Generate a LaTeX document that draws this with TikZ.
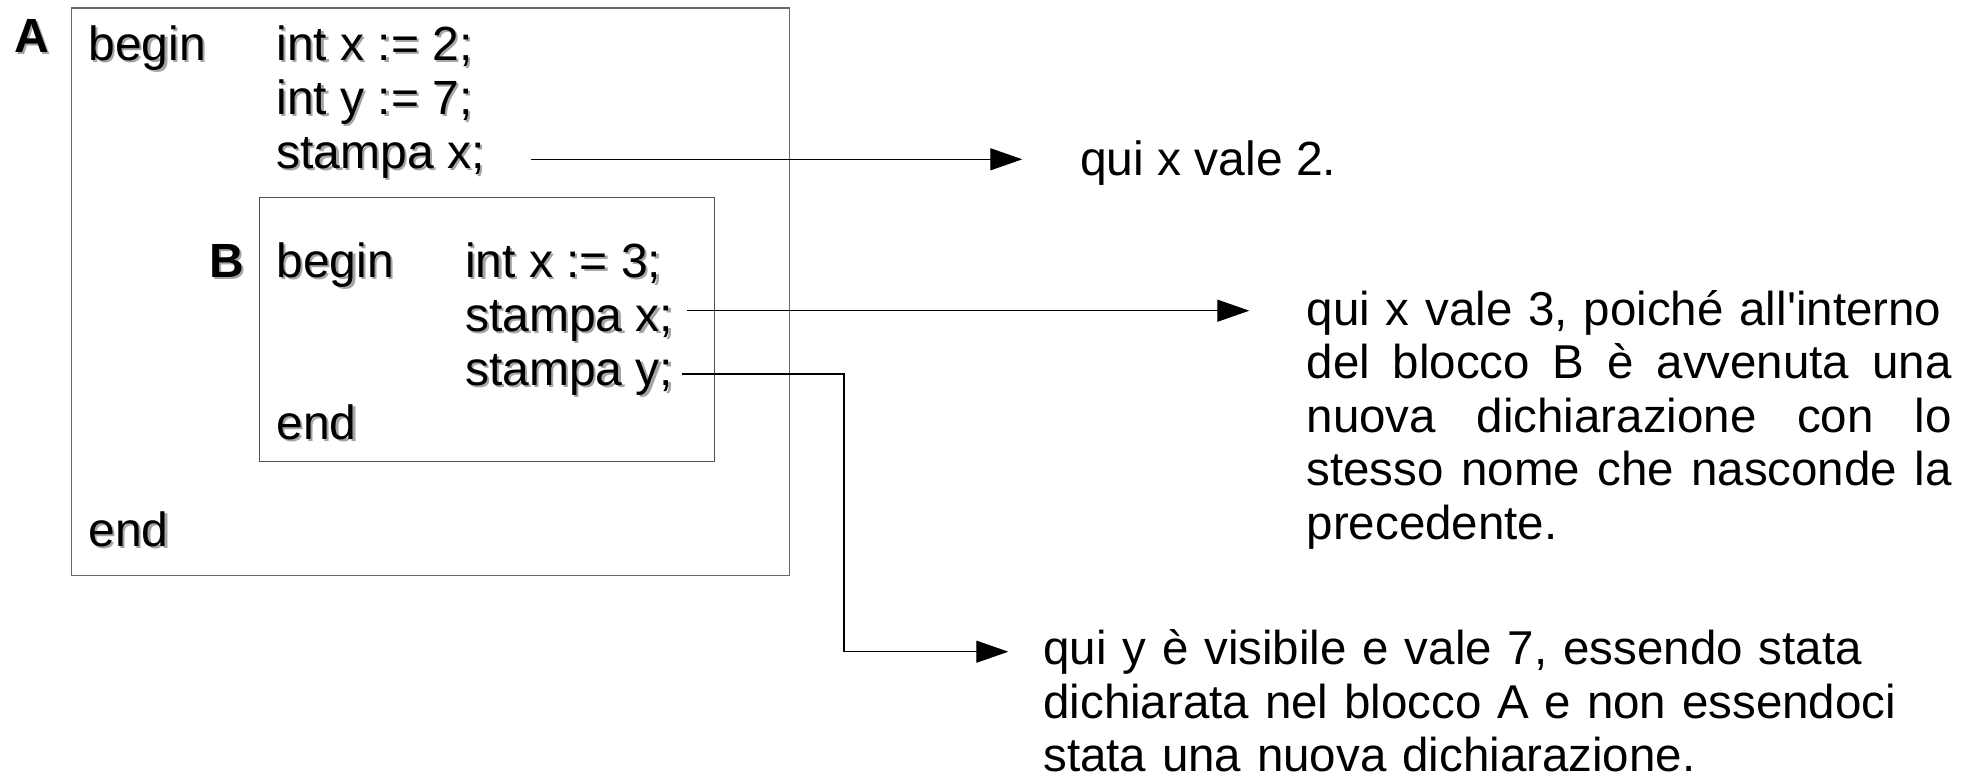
\documentclass[tikz,border=0pt]{standalone}
\usepackage{fontspec}
\setmainfont{Liberation Sans}[Ligatures=TeXOff]
\usetikzlibrary{arrows.meta}

\definecolor{shadowgray}{RGB}{165,165,165}
\definecolor{frameA}{RGB}{105,105,105}
\definecolor{frameB}{RGB}{80,80,80}

% code text with a soft drop shadow: grey copy first, black text on top
\newcommand\shcode[4][]{%
  \node[txt, text=shadowgray, xshift=2.2pt, yshift=-2.2pt, #1] (#2-sh) at (#3) {#4};
  \node[txt, #1] (#2) at (#3) {#4};}
% one fully justified line of the explanation
\newcommand\fullline[1]{\leavevmode\hbox to 645pt{#1}}

\begin{document}
\begin{tikzpicture}[x=1pt, y=-1pt,
  txt/.style={anchor=base west, inner sep=0pt, outer sep=0pt,
              font=\fontsize{48}{54}\selectfont},
  lbl/.style={font=\fontsize{48}{54}\selectfont\bfseries},
  para/.style={anchor=base west, inner sep=0pt, outer sep=0pt,
               font=\fontsize{47.5}{53.5}\selectfont, align=left},
  block/.style={draw, line width=1.3pt, inner sep=0pt, anchor=north west},
  conn/.style={draw=black, line width=1.3pt,
               -{Triangle[length=32pt,width=22pt]}}]

\useasboundingbox (0,0) rectangle (1973,776);

% the two nested blocks
\node[block, draw=frameA, minimum width=718pt, minimum height=567.7pt] (blockA) at (71,7.3) {};
\node[block, draw=frameB, minimum width=454.5pt, minimum height=264pt] (blockB) at (259,197) {};

% block A
\shcode[lbl]{labA}{14.6,52.4}{A}
\shcode{beginA}{88.5,60}{begin}
\shcode{declX}{276.5,60}{int x := 2;}
\shcode{declY}{276.5,114}{int y := 7;}
\shcode{printXa}{276.5,168}{stampa x;}
\shcode{endA}{88.5,546.7}{end}

% block B
\shcode[lbl]{labB}{209.5,277}{B}
\shcode{beginB}{276.5,277}{begin}
\shcode{declXb}{465.2,277}{int x := 3;}
\shcode{printXb}{465.2,331}{stampa x;}
\shcode{printYb}{465.2,385}{stampa y;}
\shcode{endB}{276.5,439}{end}

% explanations
\node[para, font=\fontsize{48}{54}\selectfont] (note1) at (1080,175.5) {qui x vale 2.};
\node[para, text width=646pt] (note2) at (1306.6,325.3)
  {qui x vale 3, poiché all'interno\\
   \fullline{del\hfill blocco\hfill B\hfill è\hfill avvenuta\hfill una}\\
   \fullline{nuova\hfill dichiarazione\hfill con\hfill lo}\\
   \fullline{stesso\hfill nome\hfill che\hfill nasconde\hfill la}\\
   precedente.};
\node[para, font=\fontsize{47.5}{53.5}\selectfont, text width=900pt] (note3) at (1043.3,664.8)
  {qui y è visibile e vale 7, essendo stata\\
   dichiarata nel blocco A e non essendoci\\
   stata una nuova dichiarazione.};

% connectors from the print statements to their explanations
\coordinate (out1) at ([xshift=46pt, yshift=8.7pt]printXa.base east);
\coordinate (in1) at ([xshift=-57.7pt]note1.base west |- out1);
\draw[conn] (out1) -- (in1);

\coordinate (out2) at ([xshift=14pt, yshift=20.3pt]printXb.base east);
\coordinate (in2) at ([xshift=-57.3pt]note2.base west |- out2);
\draw[conn] (out2) -- (in2);

\coordinate (out3) at ([xshift=9pt, yshift=11pt]printYb.base east);
\coordinate (bend3) at (844,651.7);
\coordinate (in3) at ([xshift=-35pt]note3.base west |- bend3);
\draw[conn] (out3) -| (bend3) -- (in3);

\end{tikzpicture}
\end{document}
